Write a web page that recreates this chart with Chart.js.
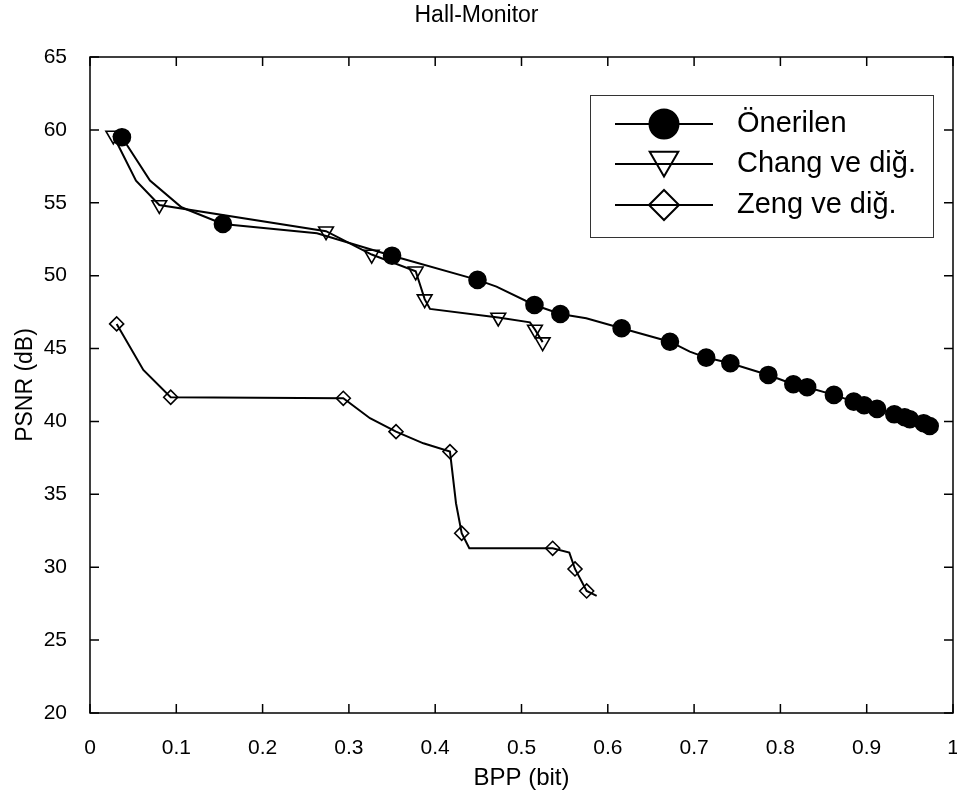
<!DOCTYPE html>
<html>
<head>
<meta charset="utf-8">
<script src="https://cdn.jsdelivr.net/npm/chart.js@4.4.0/dist/chart.umd.min.js"></script>
<style>
  html, body { margin: 0; padding: 0; background: #fff; }
</style>
</head>
<body>
<canvas id="myChart" width="957" height="798"></canvas>
<script>
// series names (legend)
const seriesNames = ["Önerilen", "Chang ve diğ.", "Zeng ve diğ."];

// Önerilen - markers
const oneriMarkX = [0.037, 0.154, 0.350, 0.449, 0.515, 0.545, 0.616, 0.672, 0.714, 0.742, 0.786, 0.815, 0.831, 0.862, 0.885, 0.897, 0.912, 0.932, 0.944, 0.950, 0.966, 0.973];
const oneriMarkY = [59.5, 53.55, 51.37, 49.71, 47.99, 47.37, 46.39, 45.47, 44.38, 43.99, 43.19, 42.55, 42.35, 41.82, 41.36, 41.11, 40.86, 40.49, 40.29, 40.15, 39.88, 39.69];
// Önerilen - line vertices
const oneriLineX = [0.037, 0.0695, 0.106, 0.154, 0.263, 0.350, 0.449, 0.471, 0.515, 0.545, 0.575, 0.616, 0.672, 0.695, 0.714, 0.742, 0.786, 0.815, 0.831, 0.862, 0.885, 0.897, 0.912, 0.932, 0.944, 0.950, 0.966, 0.973];
const oneriLineY = [59.5, 56.52, 54.69, 53.55, 52.91, 51.37, 49.71, 49.25, 47.99, 47.37, 47.08, 46.39, 45.47, 44.79, 44.38, 43.99, 43.19, 42.55, 42.35, 41.82, 41.36, 41.11, 40.86, 40.49, 40.29, 40.15, 39.88, 39.69];

// Chang ve diğ. - markers
const changMarkX = [0.027, 0.0803, 0.2735, 0.3264, 0.3774, 0.3878, 0.4731, 0.5156, 0.5245];
const changMarkY = [59.62, 54.85, 53.05, 51.45, 50.30, 48.39, 47.13, 46.31, 45.44];
// Chang ve diğ. - line vertices
const changLineX = [0.027, 0.0533, 0.0803, 0.2735, 0.3264, 0.3774, 0.3878, 0.394, 0.4731, 0.5098, 0.5156, 0.5245];
const changLineY = [59.62, 56.52, 54.85, 53.05, 51.45, 50.30, 48.39, 47.72, 47.13, 46.8, 46.31, 45.44];

// Zeng ve diğ. - markers
const zengMarkX = [0.0309, 0.0935, 0.2935, 0.3546, 0.4171, 0.4307, 0.5361, 0.562, 0.5755];
const zengMarkY = [46.69, 41.66, 41.59, 39.3, 37.93, 32.33, 31.3, 29.88, 28.37];
// Zeng ve diğ. - line vertices
const zengLineX = [0.0309, 0.0618, 0.0935, 0.2935, 0.3244, 0.3546, 0.3863, 0.4171, 0.4241, 0.4307, 0.4395, 0.5361, 0.5554, 0.562, 0.5755, 0.5871];
const zengLineY = [46.69, 43.53, 41.66, 41.59, 40.22, 39.3, 38.5, 37.93, 34.39, 32.33, 31.3, 31.3, 31.0, 29.88, 28.37, 28.03];

// axis ticks
const xTicks = [0, 0.1, 0.2, 0.3, 0.4, 0.5, 0.6, 0.7, 0.8, 0.9, 1];
const yTicks = [20, 25, 30, 35, 40, 45, 50, 55, 60, 65];

const pts = (xs, ys) => xs.map((x, i) => ({ x: x, y: ys[i] }));
const noPad = () => ({ left: 0, top: 0, right: 0, bottom: 0 });

Chart.defaults.font.family = "'Liberation Sans', Arial, sans-serif";
Chart.defaults.color = "#000";

// box around the plot with inward ticks (matlab style)
const frameTicks = {
    id: "frameTicks",
    afterDatasetsDraw(chart) {
        const { ctx, chartArea: a, scales } = chart;
        const len = 9;
        ctx.save();
        ctx.strokeStyle = "#000";
        ctx.lineWidth = 1.5;
        ctx.strokeRect(a.left, a.top, a.right - a.left, a.bottom - a.top);
        ctx.beginPath();
        xTicks.forEach(v => {
            const px = scales.x.getPixelForValue(v);
            ctx.moveTo(px, a.bottom); ctx.lineTo(px, a.bottom - len);
            ctx.moveTo(px, a.top); ctx.lineTo(px, a.top + len);
        });
        yTicks.forEach(v => {
            const py = scales.y.getPixelForValue(v);
            ctx.moveTo(a.left, py); ctx.lineTo(a.left + len, py);
            ctx.moveTo(a.right, py); ctx.lineTo(a.right - len, py);
        });
        ctx.stroke();
        ctx.restore();
    }
};

// legend with line through the marker
const lineLegend = {
    id: "lineLegend",
    afterDraw(chart) {
        const ctx = chart.ctx;
        const box = { l: 590, t: 95, r: 933, b: 237 };
        const rows = [
            { y: 124, my: 124, style: "circle", r: 14.5, fill: "#000", rot: 0 },
            { y: 164, my: 160, style: "triangle", r: 16.5, fill: "rgba(0,0,0,0)", rot: 180 },
            { y: 205, my: 205, style: "rectRot", r: 15, fill: "rgba(0,0,0,0)", rot: 0 }
        ];
        ctx.save();
        ctx.fillStyle = "#fff";
        ctx.fillRect(box.l, box.t, box.r - box.l, box.b - box.t);
        ctx.strokeStyle = "#333";
        ctx.lineWidth = 1;
        ctx.strokeRect(box.l + 0.5, box.t + 0.5, box.r - box.l, box.b - box.t);
        rows.forEach((row, i) => {
            ctx.strokeStyle = "#000";
            ctx.lineWidth = 2;
            ctx.beginPath();
            ctx.moveTo(615, row.y);
            ctx.lineTo(713, row.y);
            ctx.stroke();
            ctx.fillStyle = row.fill;
            ctx.lineWidth = 2;
            Chart.helpers.drawPoint(ctx, { pointStyle: row.style, radius: row.r, rotation: row.rot, borderWidth: 2 }, 664, row.my);
            ctx.fillStyle = "#000";
            ctx.font = "29px 'Liberation Sans', Arial, sans-serif";
            ctx.textBaseline = "middle";
            ctx.textAlign = "left";
            ctx.fillText(seriesNames[i], 737, row.y);
        });
        ctx.restore();
    }
};

const lineSet = (data) => ({
    data: data, showLine: true, pointRadius: 0, borderColor: "#000", borderWidth: 2, fill: false
});
const markSet = (data, style, r, bg, rot) => ({
    data: data, showLine: false, pointStyle: style, pointRadius: r, pointRotation: rot,
    pointBackgroundColor: bg, pointBorderColor: "#000", pointBorderWidth: 1.6, pointHoverRadius: r
});

new Chart(document.getElementById("myChart").getContext("2d"), {
    type: "scatter",
    data: {
        datasets: [
            markSet(pts(oneriMarkX, oneriMarkY), "circle", 8.5, "#000", 0),
            markSet(pts(changMarkX, changMarkY), "triangle", 8.5, "rgba(0,0,0,0)", 180),
            markSet(pts(zengMarkX, zengMarkY), "rectRot", 7, "rgba(0,0,0,0)", 0),
            lineSet(pts(oneriLineX, oneriLineY)),
            lineSet(pts(changLineX, changLineY)),
            lineSet(pts(zengLineX, zengLineY))
        ]
    },
    options: {
        responsive: false,
        animation: false,
        devicePixelRatio: 1,
        layout: { autoPadding: false, padding: { left: 0, right: 4, top: 0, bottom: 0 } },
        plugins: {
            legend: { display: false },
            tooltip: { enabled: false },
            title: {
                display: true,
                text: "Hall-Monitor",
                color: "#000",
                font: { size: 23, weight: "normal" },
                padding: { top: 2, bottom: 27.4 }
            }
        },
        scales: {
            x: {
                type: "linear",
                min: 0, max: 1,
                afterBuildTicks: s => { s.ticks = xTicks.map(v => ({ value: v })); },
                afterFit: s => { s.height = 85; s.paddingLeft = 0; s.paddingRight = 0; s.getPadding = noPad; },
                grid: { display: false },
                border: { display: false },
                ticks: { padding: 15, font: { size: 21 }, color: "#000", maxRotation: 0, autoSkip: false,
                         callback: v => String(+v.toFixed(1)) },
                title: { display: true, text: "BPP (bit)", font: { size: 24 }, color: "#000", padding: { top: 0, bottom: 5 } }
            },
            y: {
                type: "linear",
                min: 20, max: 65,
                afterBuildTicks: s => { s.ticks = yTicks.map(v => ({ value: v })); },
                afterFit: s => { s.width = 90; s.paddingTop = 0; s.paddingBottom = 0; s.getPadding = noPad; },
                grid: { display: false },
                border: { display: false },
                ticks: { padding: 15, font: { size: 21 }, color: "#000", autoSkip: false },
                title: { display: true, text: "PSNR (dB)", font: { size: 23 }, color: "#000", padding: { top: 12, bottom: 0 } }
            }
        }
    },
    plugins: [frameTicks, lineLegend]
});
</script>
</body>
</html>
